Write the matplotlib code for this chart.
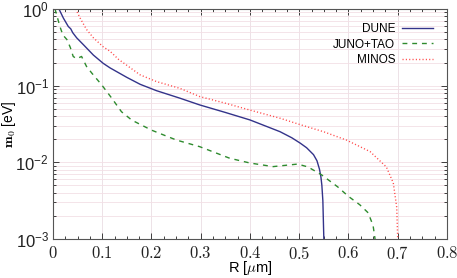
import numpy as np
import matplotlib
matplotlib.use("Agg")
import matplotlib.pyplot as plt
from matplotlib.ticker import MultipleLocator, FuncFormatter, LogLocator, LogFormatterMathtext, NullFormatter

plt.rcParams['font.family'] = ['Liberation Sans', 'DejaVu Sans']
plt.rcParams['mathtext.fontset'] = 'cm'

# values
dune_r = [0.012, 0.021, 0.031, 0.036, 0.040, 0.048, 0.062, 0.082, 0.102, 0.116, 0.15, 0.177,
          0.21, 0.258, 0.298, 0.35, 0.40, 0.461, 0.485, 0.502, 0.515, 0.529, 0.536, 0.541, 0.544,
          0.546, 0.548, 0.549, 0.55]
dune_m = [1.0, 0.76, 0.59, 0.55, 0.49, 0.42, 0.34, 0.25, 0.195, 0.17, 0.128, 0.104,
          0.086, 0.0685, 0.056, 0.0447, 0.0357, 0.0251, 0.0209, 0.0178, 0.0155, 0.0126, 0.0105, 0.0082, 0.0065,
          0.005, 0.00316, 0.00178, 0.001]

juno_r = [0.004, 0.014, 0.020, 0.028, 0.035, 0.041, 0.048, 0.058, 0.068, 0.079, 0.099, 0.119,
          0.139, 0.16, 0.20, 0.231, 0.251, 0.298, 0.359, 0.40, 0.447, 0.497, 0.518, 0.545,
          0.578, 0.60, 0.623, 0.640, 0.650, 0.654]
juno_m = [1.0, 0.59, 0.457, 0.40, 0.316, 0.24, 0.224, 0.24, 0.178, 0.145, 0.102, 0.069,
          0.0457, 0.0355, 0.0263, 0.0219, 0.0195, 0.016, 0.0113, 0.0098, 0.0088, 0.0095, 0.0087, 0.0069,
          0.0048, 0.0036, 0.0028, 0.0022, 0.0015, 0.001]

minos_r = [0.046, 0.055, 0.068, 0.082, 0.102, 0.116, 0.133, 0.177, 0.21, 0.258, 0.298, 0.35,
           0.40, 0.461, 0.502, 0.55, 0.596, 0.644, 0.677, 0.691, 0.698, 0.700]
minos_m = [1.0, 0.76, 0.54, 0.42, 0.32, 0.28, 0.22, 0.138, 0.113, 0.092, 0.072, 0.059,
           0.048, 0.0376, 0.031, 0.025, 0.0195, 0.0138, 0.0087, 0.0054, 0.0026, 0.001]

fig = plt.figure(figsize=(4.57, 2.78), dpi=100)
ax = fig.add_axes([0.116, 0.140, 0.862, 0.828])

ax.plot(dune_r, dune_m, '-', color='#33338a', lw=1.0, label='DUNE')
ax.plot(juno_r, juno_m, '--', color='#2e8b2e', lw=1.0, dashes=(3.5, 3.5), label='JUNO+TAO')
ax.plot(minos_r, minos_m, ':', color='#ff4a4a', lw=1.0, dashes=(0.8, 1.6), label='MINOS')

ax.set_yscale('log')
ax.set_xlim(0, 0.8)
ax.set_ylim(1e-3, 1)

ax.xaxis.set_major_locator(MultipleLocator(0.1))
ax.xaxis.set_minor_locator(MultipleLocator(0.025))
ax.xaxis.set_major_formatter(FuncFormatter(lambda v, p: '$%g$' % round(v, 3)))
ax.yaxis.set_major_locator(LogLocator(base=10))
ax.yaxis.set_minor_locator(LogLocator(base=10, subs=np.arange(2, 10)))
ax.yaxis.set_major_formatter(LogFormatterMathtext())
ax.yaxis.set_minor_formatter(NullFormatter())

ax.tick_params(which='both', direction='in', top=True, right=True, labelsize=12, colors='#222222')
ax.tick_params(which='major', length=4, width=0.6)
ax.tick_params(which='minor', length=2, width=0.6)
ax.tick_params(axis='x', pad=4)
ax.tick_params(axis='y', pad=3)
for s in ax.spines.values():
    s.set_color('#555555')
    s.set_linewidth(0.8)

ax.grid(True, which='major', axis='x', color='#eadde3', lw=0.6)
ax.grid(True, which='both', axis='y', color='#f3dfe5', lw=0.6)
ax.set_axisbelow(True)

ax.set_xlabel(r'R [$\mu$m]', fontsize=10.5)
ax.xaxis.set_label_coords(0.5, -0.088)
ax.set_ylabel(r'$\mathbf{m_0}$ [eV]', fontsize=10)
ax.yaxis.set_label_coords(-0.09, 0.5)

ax.legend(loc='upper right', frameon=False, markerfirst=False, fontsize=8.5,
          handlelength=2.6, handletextpad=0.6, labelspacing=0.3,
          borderaxespad=0.8, borderpad=0.4)

fig.savefig('out.png', dpi=100)
